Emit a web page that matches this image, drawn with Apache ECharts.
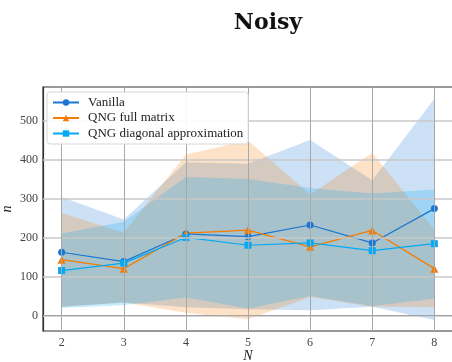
<!DOCTYPE html>
<html>
<head>
<meta charset="utf-8">
<script src="https://cdn.jsdelivr.net/npm/echarts@6/dist/echarts.min.js"></script>
<style>
  html, body { margin: 0; padding: 0; background: #fff; }
  #chart { width: 452px; height: 362px; }
</style>
</head>
<body>
<div id="chart"></div>
<script>
// Problem sizes
const sizes = [2, 3, 4, 5, 6, 7, 8];

// Mean values per method
const vanillaMean = [162, 138, 209, 202, 232, 186, 274];
const fullMean    = [143, 120, 211, 219, 176, 218, 120];
const diagMean    = [115, 134, 200, 180, 186, 166, 184];

// Spread bands (lower / upper) per method
const vanillaLow  = [22, 33, 21, 16, 13, 22, -12];
const vanillaHigh = [304, 246, 393, 389, 450, 347, 556];
const fullLow     = [22, 33, 7, -10, 47, 22, 21];
const fullHigh    = [263, 212, 413, 449, 310, 417, 220];
const diagLow     = [19, 26, 46, 18, 50, 24, 43];
const diagHigh    = [210, 240, 355, 350, 327, 313, 323];

// Tick values
const xTicks = [2, 3, 4, 5, 6, 7, 8];
const yTicks = [0, 100, 200, 300, 400, 500];

const names = ['Vanilla', 'QNG full matrix', 'QNG diagonal approximation'];
const colors = ['#1976D2', '#F57C00', '#03A9F4'];
const symbols = ['circle', 'triangle', 'rect'];
const symbolSizes = [7, 8, 7];

const serif = '"Liberation Serif", "DejaVu Serif", serif';

function pairs(ys) { return sizes.map((x, i) => [x, ys[i]]); }

// Filled region between a lower and an upper curve, mapped through the axes
function band(id, low, high, color) {
  return {
    type: 'custom', name: id + '-band', silent: true, z: 1,
    data: sizes.map((x, i) => [x, low[i], high[i]]),
    encode: { x: 0, y: [1, 2] },
    renderItem: function (params, api) {
      if (params.dataIndex !== 0) return null;
      const upper = sizes.map((x, i) => api.coord([x, high[i]]));
      const lower = sizes.map((x, i) => api.coord([x, low[i]])).reverse();
      return {
        type: 'polygon',
        shape: { points: upper.concat(lower) },
        style: { fill: color, opacity: 0.22 }
      };
    }
  };
}

const means = [vanillaMean, fullMean, diagMean];

const lineSeries = means.map((m, k) => ({
  type: 'line', name: names[k], data: pairs(m),
  symbol: symbols[k], symbolSize: symbolSizes[k], showSymbol: true,
  color: colors[k],
  lineStyle: { width: 1.2, color: colors[k] },
  itemStyle: { color: colors[k] },
  z: 3
}));

// Grid lines drawn above the bands, below the lines
const gridSeries = {
  type: 'line', name: 'grid', data: pairs(vanillaMean), showSymbol: false, symbol: 'none',
  lineStyle: { opacity: 0 }, silent: true, z: 2,
  markLine: {
    silent: true, symbol: 'none', label: { show: false }, animation: false,
    data: yTicks.map(v => ({ yAxis: v, lineStyle: { color: '#c8c8c8', width: 1.6, type: 'solid' } }))
      .concat(xTicks.map(v => ({ xAxis: v, lineStyle: { color: '#a8a8a8', width: 1, type: 'solid' } })))
  }
};

const chart = echarts.init(document.getElementById('chart'), null, { renderer: 'canvas' });

chart.setOption({
  animation: false,
  backgroundColor: '#ffffff',
  title: {
    text: 'Noisy',
    left: 263, top: 7, textAlign: 'center',
    textStyle: { fontFamily: '"DejaVu Serif", serif', fontWeight: 'bold', fontSize: 22, color: '#111' }
  },
  legend: {
    data: names,
    orient: 'vertical',
    left: 47, top: 92, z: 20,
    itemWidth: 26, itemHeight: 8, itemGap: 2.5,
    padding: [4, 5, 4, 5],
    backgroundColor: 'rgba(255,255,255,0.92)',
    borderColor: '#d6d6d6', borderWidth: 1, borderRadius: 3,
    textStyle: { fontFamily: serif, fontSize: 13, color: '#222', padding: [0, 0, 0, 4] }
  },
  grid: {
    left: 43, top: 87, width: 410, bottom: 31,
    containLabel: false, outerBoundsMode: 'none',
    show: true, borderColor: '#333', borderWidth: 1.2, backgroundColor: 'transparent'
  },
  xAxis: {
    type: 'value', min: 1.7, max: 8.3, interval: 0.1,
    axisLine: { show: true, lineStyle: { color: '#333', width: 1.2 } },
    axisTick: { show: false },
    splitLine: { show: false },
    axisLabel: {
      fontFamily: serif, fontSize: 12, color: '#444', margin: 6,
      formatter: v => {
        const r = Math.round(v);
        return (Math.abs(v - r) < 1e-6 && xTicks.includes(r)) ? String(r) : '';
      }
    },
    name: 'N', nameLocation: 'middle', nameGap: 18, nameMoveOverlap: false,
    nameTextStyle: { fontFamily: serif, fontStyle: 'italic', fontSize: 14, color: '#222' }
  },
  yAxis: {
    type: 'value', min: -40, max: 586, interval: 20,
    axisLine: { show: true, lineStyle: { color: '#333', width: 1.2 } },
    axisTick: { show: false },
    splitLine: { show: false },
    axisLabel: {
      fontFamily: serif, fontSize: 12, color: '#444', margin: 5,
      showMaxLabel: false,
      formatter: v => {
        const r = Math.round(v);
        return (Math.abs(v - r) < 1e-6 && yTicks.includes(r)) ? String(r) : '';
      }
    },
    name: 'n', nameLocation: 'middle', nameGap: 29, nameMoveOverlap: false,
    nameTextStyle: { fontFamily: serif, fontStyle: 'italic', fontSize: 14, color: '#222' }
  },
  series: [
    band('vanilla', vanillaLow, vanillaHigh, colors[0]),
    band('full', fullLow, fullHigh, colors[1]),
    band('diag', diagLow, diagHigh, colors[2]),
    gridSeries,
    ...lineSeries
  ]
});
</script>
</body>
</html>
